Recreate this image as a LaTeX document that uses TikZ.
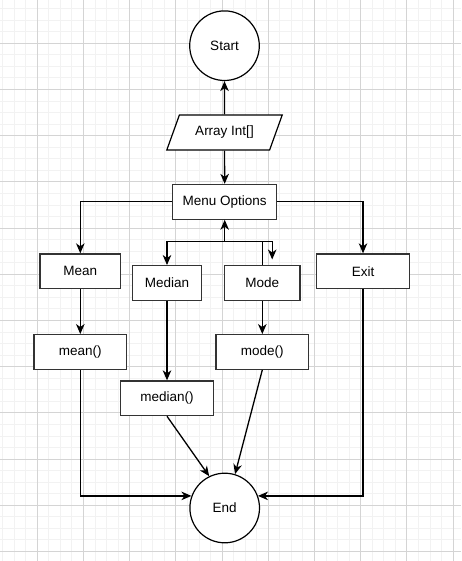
\documentclass[tikz,border=0pt]{standalone}
\usepackage{fontspec}
\setmainfont{Liberation Sans}
\usepackage{tikz}
\usetikzlibrary{arrows.meta}
\usetikzlibrary{shapes.geometric}
\definecolor{gridminor}{rgb}{0.95, 0.95, 0.95}
\definecolor{gridmajor}{rgb}{0.83, 0.83, 0.83}
\definecolor{boxline}{rgb}{0.2, 0.2, 0.2}

\begin{document}
\begin{tikzpicture}[x=1pt, y=-1pt,
    font=\fontsize{13.5}{16}\selectfont,
    box/.style={draw=boxline, line width=1.2pt, fill=white, inner sep=0pt, minimum height=34.7pt},
    circ/.style={draw, circle, line width=1.2pt, fill=white, inner sep=0pt, minimum size=69.6pt},
    io/.style={draw, trapezium, trapezium left angle=57, trapezium right angle=123,
        trapezium stretches=true, line width=1.2pt, fill=white, inner sep=0pt,
        minimum width=116pt, minimum height=35pt},
    arr/.style={line width=1.3pt, -{Stealth[length=10pt, width=8.5pt, inset=3pt]}}]
    % Page and grid
    \useasboundingbox (0,0) rectangle (461,561);
    \fill[white] (0,0) rectangle (461,561);
    \begin{scope}
        \clip (0,0) rectangle (461,561);
        \foreach \k in {-4,...,38} \draw[gridminor, line width=1pt] (37.3+\k*11.55,0) -- (37.3+\k*11.55,561);
        \foreach \k in {-4,...,46} \draw[gridminor, line width=1pt] (0,43.3+\k*11.55) -- (461,43.3+\k*11.55);
        \foreach \k in {-1,...,9} \draw[gridmajor, line width=1pt] (37.3+\k*46.2,0) -- (37.3+\k*46.2,561);
        \foreach \k in {-1,...,11} \draw[gridmajor, line width=1pt] (0,43.3+\k*46.2) -- (461,43.3+\k*46.2);
    \end{scope}

    % Start, input and menu
    \node[circ] (start) at (224.5,45.7) {Start};
    \node[io] (input) at (224.5,132.5) {Array Int[]};
    \node[box, minimum width=104pt] (menu) at (224.7,201.8) {Menu Options};

    % Options
    \node[box, minimum width=80.7pt] (mean) at (80.3,271.3) {Mean};
    \node[box, minimum width=69.4pt] (median) at (167,283) {Median};
    \node[box, minimum width=75.3pt] (mode) at (262.3,283) {Mode};
    \node[box, minimum width=92.7pt] (exit) at (363,271.3) {Exit};

    % Functions
    \node[box, minimum width=92.7pt] (meanfn) at (80.3,352) {mean()};
    \node[box, minimum width=92.7pt] (medianfn) at (167,398.3) {median()};
    \node[box, minimum width=92.7pt] (modefn) at (262.3,352) {mode()};

    % End
    \node[circ] (end) at (224.7,508) {End};

    % Top connectors
    \draw[arr] (input.north) -- (start.south);
    \draw[arr] (input.south) -- (menu.north);
    \draw[arr] (menu.west) -| (mean.north);
    \draw[arr] (menu.east) -| (exit.north);

    % Median / mode branch
    \coordinate (jn) at (224.7,241.7);
    \coordinate (modetip) at (272.2,259.5);
    \draw[arr] (jn) -- (menu.south);
    \draw[arr] (jn) -| (median.north);
    \draw[line width=1.3pt] (mode.north) |- (jn);
    \draw[arr] (jn) -| (modetip);

    % Option to function
    \draw[arr] (mean.south) -- (meanfn.north);
    \draw[arr] (median.south) -- (medianfn.north);
    \draw[arr] (mode.south) -- (modefn.north);

    % Into end
    \draw[arr] (meanfn.south) |- (end.160);
    \draw[arr] (medianfn.south) -- (end.116);
    \draw[arr] (modefn.south) -- (end.73);
    \draw[arr] (exit.south) |- (end.20);
\end{tikzpicture}
\end{document}
